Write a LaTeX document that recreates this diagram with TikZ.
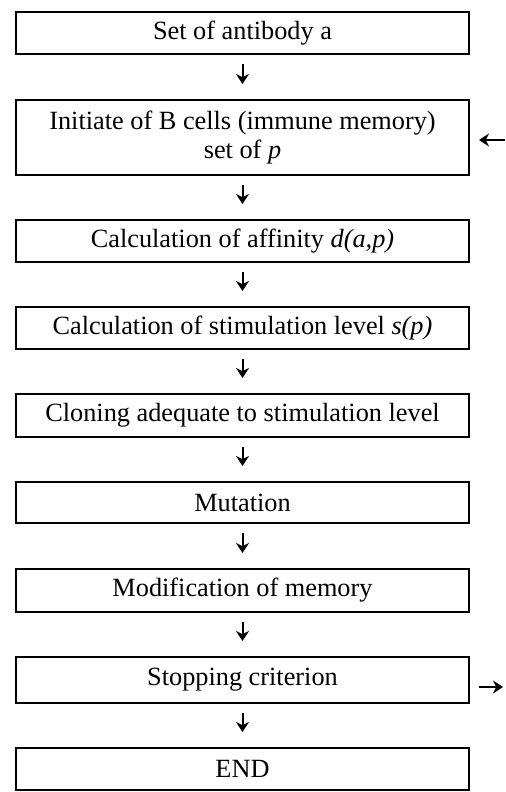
\documentclass[tikz,border=0pt]{standalone}
\usepackage{fontspec}
\setmainfont{Liberation Serif}
\usetikzlibrary{arrows.meta}
\begin{document}
\begin{tikzpicture}[x=0.5pt,y=-0.5pt,
  stepbox/.style={draw,line width=1pt,minimum width=226.5pt,inner sep=0pt,
    align=center,font=\fontsize{13.15}{14.5}\selectfont},
  tip/.style={-{Stealth[length=5pt,width=6.5pt,inset=1.6pt]}},
  flow/.style={line width=1pt,tip,shorten <=4.5pt,shorten >=7.5pt},
  side/.style={line width=1pt,tip}]
\useasboundingbox (0,0) rectangle (505,792);
\node[stepbox,minimum height=21pt] (b1) at (242.5,33) {Set of antibody a};
\node[stepbox,minimum height=37.5pt] (b2) at (242.5,137.5) {Initiate of B cells (immune memory)\\set of \textit{p}};
\node[stepbox,minimum height=21pt] (b3) at (242.5,241) {Calculation of affinity \textit{d(a,p)}};
\node[stepbox,minimum height=21pt] (b4) at (242.5,328) {Calculation of stimulation level \textit{s(p)}};
\node[stepbox,minimum height=21.5pt] (b5) at (242.5,415.5) {Cloning adequate to stimulation level};
\node[stepbox,minimum height=20.5pt] (b6) at (242.5,502.5) {Mutation};
\node[stepbox,minimum height=21.5pt] (b7) at (242.5,590.5) {Modification of memory};
\node[stepbox,minimum height=23pt] (b8) at (242.5,680) {Stopping criterion};
\node[stepbox,minimum height=21pt] (b9) at (242.5,769) {END};
\foreach \a/\b in {b1/b2,b2/b3,b3/b4,b4/b5,b5/b6,b6/b7,b7/b8,b8/b9}
  \draw[flow] (\a) -- (\b);
\coordinate (inp) at (505,140);
\coordinate (outp) at (503,687);
\draw[side,shorten >=4.5pt] (inp) -- (inp -| b2.east);
\draw[side,shorten <=4.5pt] (outp -| b8.east) -- (outp);
\end{tikzpicture}
\end{document}
